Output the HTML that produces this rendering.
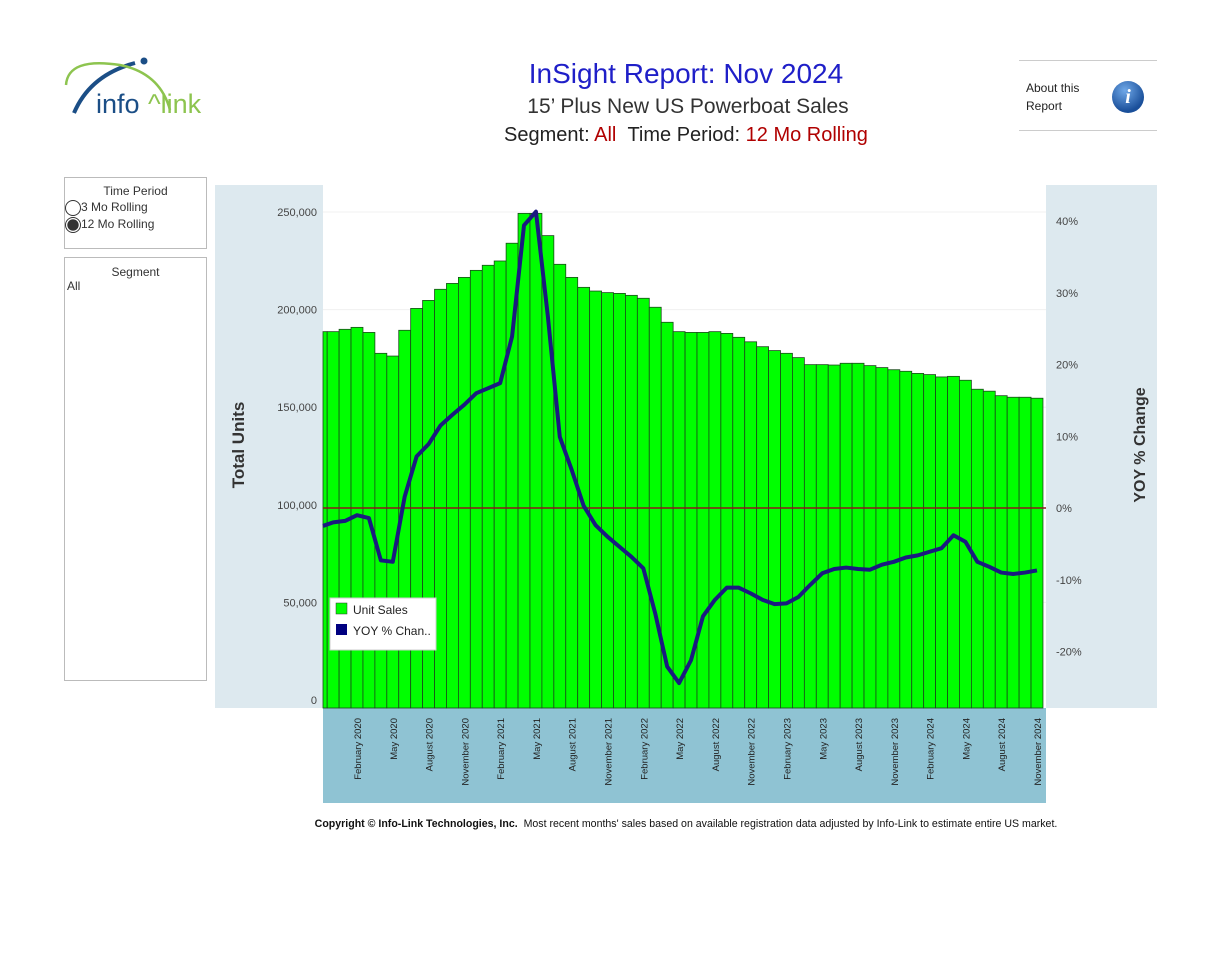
<!DOCTYPE html>
<html><head><meta charset="utf-8">
<style>
body{margin:0;width:1230px;height:956px;background:#fff;font-family:"Liberation Sans",sans-serif;overflow:hidden;position:relative}
.abs{position:absolute}
</style></head>
<body>
<div class="abs" style="left:60px;top:55px;width:160px;height:70px">
<svg width="160" height="70">
<path d="M14 58 Q30 20 75 8" stroke="#1b4e86" stroke-width="4" fill="none"/>
<circle cx="84" cy="6" r="3.5" fill="#1b4e86"/>
<path d="M6 30 Q8 2 60 10 Q100 18 110 55" stroke="#8dc44f" stroke-width="2.5" fill="none"/>
<text x="36" y="58" font-size="27" fill="#1b4e86" font-family="Liberation Sans,sans-serif">info</text>
<text x="88" y="58" font-size="27" fill="#8dc44f" font-family="Liberation Sans,sans-serif">^link</text>
</svg></div>
<div class="abs" style="left:0;width:1372px;top:58px;text-align:center;font-size:28px;color:#1f1fc8">InSight Report: Nov 2024</div>
<div class="abs" style="left:0;width:1376px;top:95px;text-align:center;font-size:21px;color:#333">15’ Plus New US Powerboat Sales</div>
<div class="abs" style="left:0;width:1372px;top:124px;text-align:center;font-size:20px;color:#222">Segment: <span style="color:#b00000">All</span>&nbsp;&nbsp;Time Period: <span style="color:#b00000">12 Mo Rolling</span></div>
<div class="abs" style="left:1019px;top:60px;width:138px;height:1px;background:#ccc"></div>
<div class="abs" style="left:1019px;top:130px;width:138px;height:1px;background:#ccc"></div>
<div class="abs" style="left:1026px;top:79px;font-size:12px;line-height:18px;color:#222">About this<br>Report</div>
<div class="abs" style="left:1112px;top:81px;width:32px;height:32px;border-radius:50%;background:radial-gradient(circle at 40% 30%,#6fa8e8,#1a4f9a 70%);color:#fff;font:italic bold 20px 'Liberation Serif',serif;text-align:center;line-height:32px">i</div>

<div class="abs" style="left:64px;top:177px;width:141px;height:70px;border:1px solid #bbb;font-size:12px;color:#333">
<div style="text-align:center;margin-top:6px">Time Period</div>
<div style="margin-top:2px"><span style="display:inline-block;width:14px;height:14px;border:1px solid #333;border-radius:50%;vertical-align:middle"></span>3 Mo Rolling</div>
<div style="margin-top:1px"><span style="display:inline-block;width:14px;height:14px;border:1px solid #333;border-radius:50%;vertical-align:middle;background:radial-gradient(#333 55%,#fff 60%)"></span>12 Mo Rolling</div>
</div>
<div class="abs" style="left:64px;top:257px;width:141px;height:422px;border:1px solid #bbb;font-size:12px;color:#333">
<div style="text-align:center;margin-top:7px">Segment</div>
<div style="margin-left:2px">All</div>
</div>

<svg class="abs" style="left:0;top:0" width="1230" height="956">
<rect x="215" y="185" width="108" height="523" fill="#dde9ef"/>
<rect x="1046" y="185" width="111" height="523" fill="#dde9ef"/>
<rect x="323" y="708" width="723" height="95" fill="#8fc3d3"/>
<g id="grid"></g>
<g id="bars"></g>
<line x1="323" x2="1046" y1="508" y2="508" stroke="#8b1a1a" stroke-width="1.5"/>
<path id="yoy" fill="none" stroke="#1a1a80" stroke-width="4" stroke-linejoin="round"/>
<g id="yl" font-size="11" fill="#444" text-anchor="end"></g>
<g id="yr" font-size="11" fill="#444"></g>
<g id="xl" font-size="9.5" fill="#222"></g>
<text transform="translate(244,445) rotate(-90)" text-anchor="middle" font-size="17" font-weight="bold" fill="#333">Total Units</text>
<text transform="translate(1145,445) rotate(-90)" text-anchor="middle" font-size="16" font-weight="bold" fill="#333">YOY % Change</text>
<g>
<rect x="330" y="598" width="106" height="52" fill="#fff" stroke="#ccc"/>
<rect x="336" y="603" width="11" height="11" fill="#00ff00" stroke="#333" stroke-width=".5"/>
<text x="353" y="614" font-size="12" fill="#222">Unit Sales</text>
<rect x="336" y="624" width="11" height="11" fill="#000080"/>
<text x="353" y="635" font-size="12" fill="#222">YOY % Chan..</text>
</g>
</svg>
<div class="abs" style="left:0;width:1372px;top:818px;text-align:center;font-size:10.6px;color:#111"><b>Copyright © Info-Link Technologies, Inc.</b>&nbsp; Most recent months' sales based on available registration data adjusted by Info-Link to estimate entire US market.</div>

<script>
const units=[188.7,188.7,189.9,190.9,188.3,177.6,176.2,189.4,200.6,204.7,210.4,213.4,216.5,220.1,222.7,224.9,234,249.3,249.3,237.9,223.2,216.5,211.4,209.5,208.7,208.3,207.3,205.8,201.2,193.5,188.7,188.3,188.3,188.7,187.8,185.8,183.5,181,179,177.6,175.4,171.8,171.8,171.6,172.5,172.5,171.3,170.3,169.2,168.4,167.3,166.7,165.5,165.8,163.8,159.2,158.2,155.9,155.1,155.1,154.6];
const yoy=[-2.5,-2.0,-1.8,-1.0,-1.4,-7.3,-7.5,1.6,7.2,8.9,11.5,13.0,14.4,16.0,16.7,17.4,23.9,39.4,41.3,26.7,9.9,5.3,0.3,-2.4,-4.0,-5.4,-6.8,-8.4,-14.7,-22.1,-24.4,-21.2,-15.1,-12.8,-11.1,-11.1,-11.9,-12.8,-13.4,-13.3,-12.4,-10.7,-9.1,-8.5,-8.3,-8.5,-8.6,-7.9,-7.5,-6.9,-6.6,-6.1,-5.6,-3.8,-4.7,-7.5,-8.2,-9.0,-9.2,-9.0,-8.7];
const leftTicks=[0,50000,100000,150000,200000,250000];
const rightTicks=[-20,-10,0,10,20,30,40];
const monthNames=["November","December","January","February","March","April","May","June","July","August","September","October"];
const startYear=2019;
const NS="http://www.w3.org/2000/svg";
const step=11.93, lastC=1037, n=units.length;
const xc=i=>lastC-(n-1-i)*step;
const yL=v=>700-v*1.952;        // v in thousands
const yR=p=>508-p*7.175;
function mk(t,a){const e=document.createElementNS(NS,t);for(const k in a)e.setAttribute(k,a[k]);return e;}
const bars=document.getElementById('bars');
units.forEach((v,i)=>{
 let x0=xc(i)-step/2,x1=xc(i)+step/2; if(x0<323)x0=323;
 const r=mk('rect',{x:x0,y:yL(v),width:x1-x0,height:700-yL(v)+8,fill:'#00ff00',stroke:'#1a4a1a','stroke-width':0.8});
 
 
 bars.appendChild(r);
});
const grid=document.getElementById('grid');
leftTicks.forEach(t=>{
 if(t>0){const l=mk('line',{x1:323,x2:1046,y1:yL(t/1000),y2:yL(t/1000),stroke:'#f0f0f0'});grid.appendChild(l);}
 const tx=mk('text',{x:317,y:yL(t/1000)+4});tx.textContent=t.toLocaleString('en-US');
 
 
 document.getElementById('yl').appendChild(tx);
});
rightTicks.forEach(t=>{
 const tx=mk('text',{x:1056,y:yR(t)+4});tx.textContent=t+'%';
 
 
 document.getElementById('yr').appendChild(tx);
});
let d='';yoy.forEach((p,i)=>{let x=Math.max(xc(i),323);d+=(i?'L':'M')+x+' '+yR(p);});
const yp=document.getElementById('yoy');yp.setAttribute('d',d);


const xl=document.getElementById('xl');
for(let i=3;i<n;i+=3){
 const mi=i%12, yr=startYear+Math.floor((i+10)/12);
 const tx=mk('text',{transform:`translate(${xc(i)+4},718) rotate(-90)`,'text-anchor':'end'});
 tx.textContent=monthNames[mi]+' '+yr;
 
 
 xl.appendChild(tx);
}
</script>
</body></html>
